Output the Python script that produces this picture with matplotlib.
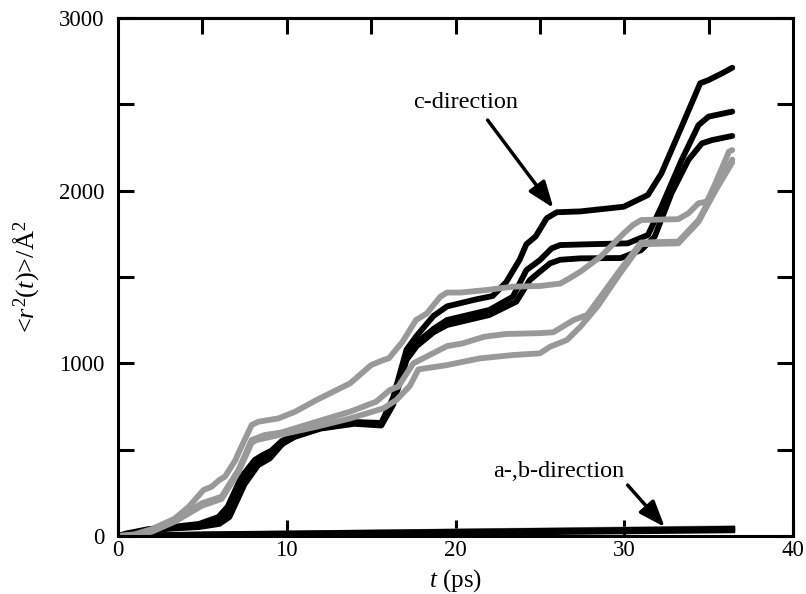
import numpy as np
import matplotlib
matplotlib.use('Agg')
import matplotlib.pyplot as plt

plt.rcParams['font.family'] = ['Liberation Serif', 'DejaVu Serif']
plt.rcParams['mathtext.fontset'] = 'custom'
plt.rcParams['mathtext.rm'] = 'Liberation Serif'
plt.rcParams['mathtext.it'] = 'Liberation Serif:italic'

# c-direction, black runs
b1_t = [0, 0.5, 1.8, 3, 4.8, 5.95, 6.5, 7.3, 8.1, 8.5, 9.1, 9.7, 10.5, 12, 14, 15.6, 16.3, 17.1, 17.7,
        18.7, 19.5, 21.2, 22.2, 23.0, 23.8, 24.2, 24.75, 25.4, 26.0, 27.4, 29.97, 31.4, 32.2, 33.4,
        34.5, 35.0, 35.8, 36.4]
b1_v = [0, 15, 40, 50, 70, 110, 170, 340, 440, 465, 495, 550, 585, 630, 660, 655, 800, 1080, 1160,
        1275, 1330, 1370, 1390, 1470, 1600, 1690, 1735, 1840, 1875, 1880, 1907, 1975, 2100, 2371,
        2622, 2641, 2680, 2712]

b2_t = [0, 0.5, 1.8, 3, 4.8, 6.0, 6.6, 7.4, 8.2, 9.0, 9.7, 10.5, 12, 14, 15.6, 16.3, 17.1, 17.7,
        18.7, 19.5, 22.0, 23.4, 24.2, 25.0, 25.7, 26.2, 28.0, 30.2, 31.4, 32.2, 33.4, 34.4, 35.0,
        36.4]
b2_v = [0, 12, 35, 45, 58, 80, 140, 320, 420, 470, 530, 580, 625, 655, 645, 770, 1040, 1120,
        1200, 1251, 1309, 1386, 1540, 1598, 1666, 1685, 1690, 1695, 1743, 1907, 2178, 2380, 2429,
        2458]

b3_t = [0, 0.5, 1.8, 3, 4.8, 6.0, 6.6, 7.5, 8.3, 9.0, 9.8, 10.5, 12, 14, 15.6, 16.3, 17.1, 17.7,
        18.7, 19.5, 22.0, 23.6, 24.4, 25.0, 25.6, 26.2, 27.4, 29.8, 31.0, 31.8, 32.8, 33.8, 34.6,
        35.2, 36.4]
b3_v = [0, 10, 32, 42, 52, 70, 110, 300, 410, 450, 540, 575, 622, 650, 640, 760, 1020, 1100,
        1180, 1222, 1280, 1357, 1482, 1531, 1579, 1600, 1608, 1610, 1656, 1733, 1985, 2178, 2274,
        2293, 2317]

# c-direction, grey runs
g1_t = [0, 1, 2, 3.35, 4.2, 5.06, 5.55, 6.0, 6.34, 6.96, 7.13, 7.92, 8.32, 9.5, 10.5, 11.77, 13.75,
        15.0, 15.72, 16.05, 16.86, 17.66, 18.3, 19.1, 19.5, 20.3, 21.85, 23.4, 25.0, 26.2, 26.75,
        27.4, 28.6, 29.97, 30.5, 31.0, 33.2, 33.8, 34.4, 34.9, 35.4, 36.2, 36.4]
g1_v = [0, 10, 40, 100, 170, 266, 286, 324, 344, 440, 479, 643, 662, 681, 720, 788, 884,
        990, 1019, 1029, 1125, 1251, 1289, 1386, 1410, 1410, 1425, 1444, 1448, 1462, 1492,
        1531, 1618, 1753, 1800, 1830, 1835, 1869, 1927, 1937, 2042, 2226, 2235]

g2_t = [0, 1, 2, 3.4, 4.96, 6.14, 7.13, 7.92, 8.7, 9.7, 11.77, 13.75, 15.3, 16.1, 16.6, 17.5,
        19.5, 20.4, 21.7, 23.0, 25.0, 25.8, 27.0, 27.8, 28.6, 29.75, 31.0, 33.2, 34.4, 35.4, 36.4]
g2_v = [0, 5, 30, 93, 189, 228, 382, 556, 585, 600, 662, 720, 778, 845, 865, 1000,
        1100, 1115, 1154, 1170, 1175, 1180, 1251, 1280, 1386, 1540, 1700, 1705, 1830, 2010, 2180]

g3_t = [0, 1, 2, 3.4, 4.96, 6.14, 7.13, 7.92, 8.2, 11.77, 13.75, 15.72, 16.5, 17.3, 17.8, 19.5,
        21.45, 23.4, 25.0, 25.6, 26.6, 27.4, 28.4, 29.75, 31.0, 33.2, 34.4, 35.4, 36.4]
g3_v = [0, 3, 25, 85, 175, 215, 370, 540, 556, 633, 681, 739, 788, 870, 965, 990,
        1029, 1048, 1058, 1096, 1135, 1212, 1328, 1521, 1690, 1695, 1820, 2000, 2165]

# a-, b-direction
ab_t = [0, 5, 10, 15, 20, 25, 30, 36.4]
ab_black = [0, 10, 15, 20, 25, 30, 35, 42]
ab_black2 = [0, 6, 10, 14, 18, 22, 27, 33]
ab_grey = [0, 8, 14, 20, 27, 32, 38, 45]

grey = '#999999'

fig = plt.figure(figsize=(8.06, 5.94), dpi=100)
ax = fig.add_axes([0.1464, 0.0976, 0.8375, 0.8721])

lw = 4.2
ax.plot(ab_t, ab_grey, color=grey, lw=lw)
ax.plot(ab_t, ab_black2, color='k', lw=lw)
ax.plot(ab_t, ab_black, color='k', lw=lw)
for t, v in [(b1_t, b1_v), (b2_t, b2_v), (b3_t, b3_v)]:
    ax.plot(t, v, color='k', lw=lw, solid_joinstyle='round', solid_capstyle='round')
for t, v in [(g1_t, g1_v), (g2_t, g2_v), (g3_t, g3_v)]:
    ax.plot(t, v, color=grey, lw=lw, solid_joinstyle='round', solid_capstyle='round')

ax.set_xlim(0, 40)
ax.set_ylim(0, 3000)
ax.set_xticks([0, 10, 20, 30, 40])
ax.set_yticks(np.arange(0, 3001, 500))
ax.set_yticklabels([str(v) if v % 1000 == 0 else '' for v in range(0, 3001, 500)])
ax.tick_params(axis='both', direction='in', length=11.5, width=2.2, labelsize=16.5)
ax.tick_params(axis='y', right=True, pad=10)
ax.tick_params(axis='x', pad=3)
for s in ax.spines.values():
    s.set_linewidth(2.2)

top = ax.secondary_xaxis('top')
top.set_xticks(np.arange(5, 40, 5))
top.set_xticklabels([])
top.tick_params(direction='in', length=11.5, width=2.2)
top.spines['top'].set_linewidth(2.2)

ax.set_xlabel(r'$\mathit{t}$ (ps)', fontsize=18, labelpad=4)
ax.set_ylabel(r'<$\mathit{r}^2$($\mathit{t}$)>/Å$^2$', fontsize=19, labelpad=12)

arrow = dict(arrowstyle='-|>,head_length=0.8,head_width=0.3', lw=2.5, color='k',
             mutation_scale=20, shrinkA=0, shrinkB=0)
ax.text(20.6, 2510, 'c-direction', fontsize=17.5, ha='center', va='center')
ax.annotate('', xy=(25.8, 1900), xytext=(21.9, 2409), arrowprops=arrow)
ax.text(26.1, 371, 'a-,b-direction', fontsize=17.5, ha='center', va='center')
ax.annotate('', xy=(32.4, 52), xytext=(30.2, 295), arrowprops=arrow)

fig.savefig('out.png', dpi=100)
